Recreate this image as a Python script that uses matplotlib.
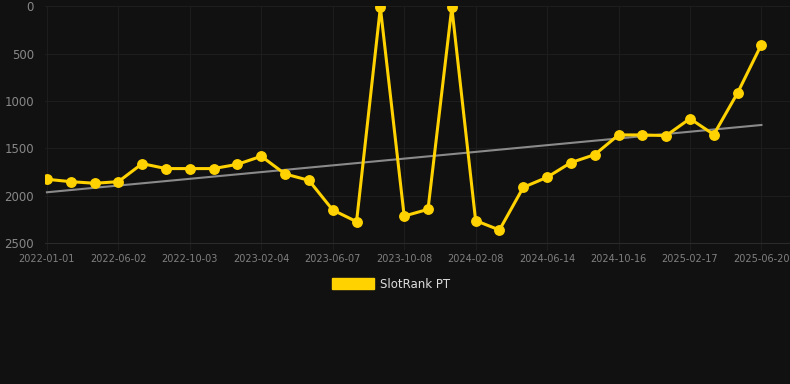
import matplotlib
matplotlib.use("Agg")
import matplotlib.pyplot as plt
from matplotlib.patches import Patch
import numpy as np

# rank values, one per sample (categorical x axis)
ranks = [1827, 1852, 1869, 1852, 1662, 1714, 1714, 1714, 1669, 1584,
         1771, 1838, 2151, 2274, 14, 2215, 2144, 14, 2263, 2362,
         1912, 1806, 1651, 1567, 1359, 1359, 1366, 1187, 1355, 915, 405]
tick_labels = ["2022-01-01", "2022-06-02", "2022-10-03", "2023-02-04",
               "2023-06-07", "2023-10-08", "2024-02-08", "2024-06-14",
               "2024-10-16", "2025-02-17", "2025-06-20"]
# trend line end values
trend = [1964, 1254]

bg = "#111111"
yellow = "#FFD200"

fig = plt.figure(figsize=(7.9, 3.84), dpi=100, facecolor=bg)
ax = fig.add_axes([0.057, 0.367, 0.943, 0.617], facecolor=bg)

x = np.arange(len(ranks))
ax.plot([x[0], x[-1]], trend, color="#8a8a8a", linewidth=1.5, zorder=2)
ax.plot(x, ranks, color=yellow, linewidth=2.2, marker="o", markersize=6.8, zorder=3)

ax.set_ylim(2500, 0)
ax.set_xlim(-0.08, 31.2)
ax.set_yticks([0, 500, 1000, 1500, 2000, 2500])
ax.set_xticks(x[::3])
ax.set_xticklabels(tick_labels)

ax.grid(True, color="#1d1d1d", linewidth=0.8)
ax.set_axisbelow(True)
for s in ax.spines.values():
    s.set_visible(False)
ax.spines["bottom"].set_visible(True)
ax.spines["bottom"].set_color("#2a2a2a")
ax.spines["bottom"].set_linewidth(0.8)
ax.tick_params(axis="y", length=0, colors="#888888", labelsize=8.5, pad=8)
ax.tick_params(axis="x", length=5, color="#1d1d1d", colors="#808080", labelsize=7, pad=3)

fig.legend(handles=[Patch(color=yellow, label="SlotRank PT")], loc="center",
           bbox_to_anchor=(0.495, 0.26), frameon=False, handlelength=3.6, handleheight=1.0,
           fontsize=8.5, labelcolor="#dddddd", handletextpad=0.5)

fig.savefig("out.png", facecolor=bg)
